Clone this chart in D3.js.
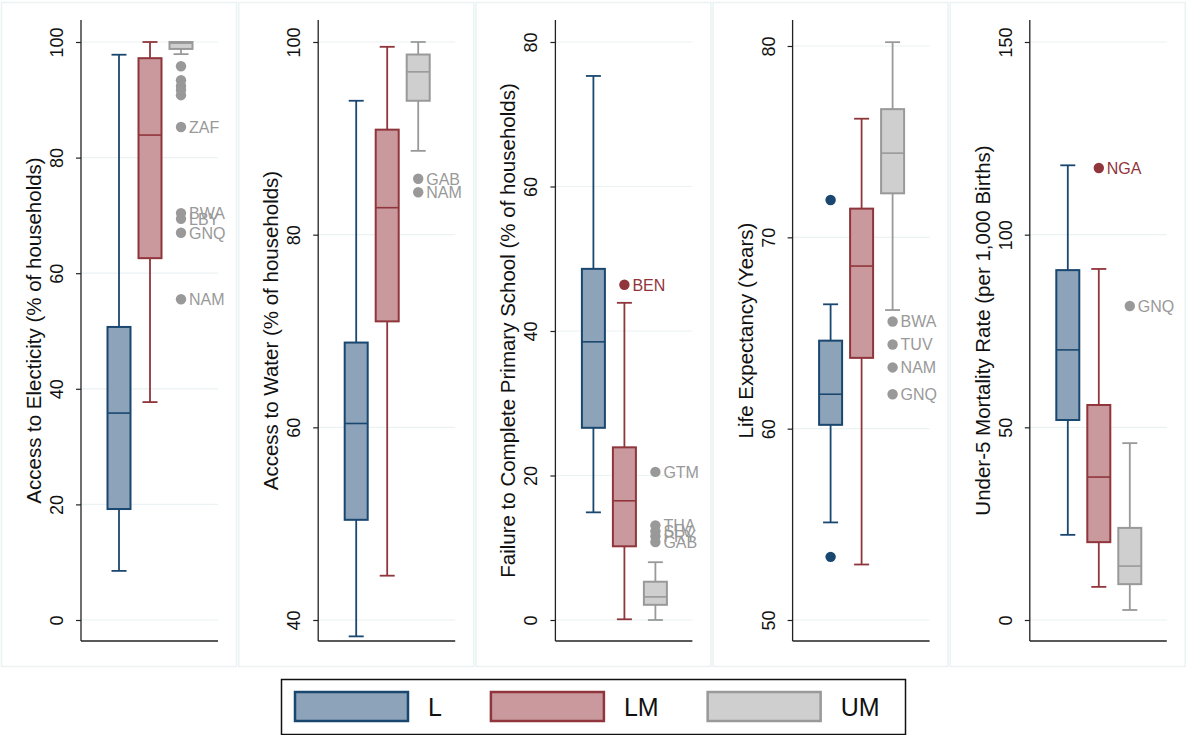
<!DOCTYPE html>
<html>
<head>
<meta charset="utf-8">
<script src="https://cdn.jsdelivr.net/npm/d3@7"></script>
<style>
  html, body { margin: 0; padding: 0; background: #fff; }
  svg { display: block; font-family: "Liberation Sans", Arial, sans-serif; }
</style>
</head>
<body>
<svg id="chart" width="1186" height="735"></svg>
<script>
// Income groups shown in each panel
const groups = ["L", "LM", "UM"];

// Panel axis titles
const titles = [
  "Access to Electicity (% of households)",
  "Access to Water (% of households)",
  "Failure to Complete Primary School (% of households)",
  "Life Expectancy (Years)",
  "Under-5 Mortality Rate (per 1,000 Births)"
];

// Tick values per panel
const ticksElectricity = [0, 20, 40, 60, 80, 100];
const ticksWater = [40, 60, 80, 100];
const ticksSchool = [0, 20, 40, 60, 80];
const ticksLife = [50, 60, 70, 80];
const ticksMortality = [0, 50, 100, 150];

// Box statistics per group: [lower whisker, Q1, median, Q3, upper whisker]
const statsElectricity = [
  [8.5, 19.2, 35.8, 50.7, 97.8],
  [37.7, 62.6, 83.9, 97.2, 100],
  [97.9, 98.8, 99.8, 100, 100]
];
const statsWater = [
  [38.3, 50.4, 60.4, 68.8, 93.9],
  [44.6, 71.0, 82.8, 90.9, 99.5],
  [88.7, 93.9, 96.9, 98.7, 100]
];
const statsSchool = [
  [14.9, 26.6, 38.5, 48.6, 75.3],
  [0.1, 10.2, 16.5, 23.9, 43.9],
  [0, 2.1, 3.2, 5.3, 8.0]
];
const statsLife = [
  [55.1, 60.2, 61.8, 64.6, 66.5],
  [52.9, 63.7, 68.5, 71.5, 76.2],
  [66.2, 72.3, 74.4, 76.7, 80.2]
];
const statsMortality = [
  [22.1, 51.9, 70.1, 90.8, 118.0],
  [8.6, 20.2, 37.1, 55.8, 91.1],
  [2.6, 9.3, 14.0, 23.9, 45.9]
];

// Outside values: [group index, value, country label]
const outElectricity = [
  [2, 95.8, ""], [2, 93.4, ""], [2, 92.4, ""], [2, 91.7, ""], [2, 90.8, ""],
  [2, 85.3, "ZAF"], [2, 70.4, "BWA"], [2, 69.4, "LBY"], [2, 67.0, "GNQ"], [2, 55.5, "NAM"]
];
const outWater = [
  [2, 85.8, "GAB"], [2, 84.4, "NAM"]
];
const outSchool = [
  [1, 46.4, "BEN"],
  [2, 20.5, "GTM"], [2, 13.1, "THA"], [2, 12.3, "SLV"], [2, 11.6, "PRY"], [2, 10.8, "GAB"]
];
const outLife = [
  [0, 71.95, ""], [0, 53.3, ""],
  [2, 65.6, "BWA"], [2, 64.4, "TUV"], [2, 63.2, "NAM"], [2, 61.8, "GNQ"]
];
const outMortality = [
  [1, 117.3, "NGA"], [2, 81.5, "GNQ"]
];

const panels = [
  { title: titles[0], ticks: ticksElectricity, stats: statsElectricity, outs: outElectricity },
  { title: titles[1], ticks: ticksWater, stats: statsWater, outs: outWater },
  { title: titles[2], ticks: ticksSchool, stats: statsSchool, outs: outSchool },
  { title: titles[3], ticks: ticksLife, stats: statsLife, outs: outLife },
  { title: titles[4], ticks: ticksMortality, stats: statsMortality, outs: outMortality }
];

const fills = ["#8ca3b9", "#c9999d", "#cfcfcf"];
const strokes = ["#1a476f", "#90353b", "#999999"];
const dotColors = ["#1a476f", "#90353b", "#999999"];

const svg = d3.select("#chart");

// Layout of the panel grid
const panelW = 235, panelGap = 2.2, panelTop = 2, panelH = 664;
const plotTop = 20, plotBottom = 641;
const tickLo = 620;  // pixel row of the lowest tick
const tickHiRows = [42, 42, 42, 46, 42];
const boxW = 23;

panels.forEach((p, i) => {
  const px = 1 + i * (panelW + panelGap);
  const g = svg.append("g").attr("transform", `translate(${px},0)`);

  g.append("rect")
    .attr("x", 0.5).attr("y", panelTop + 0.5)
    .attr("width", panelW).attr("height", panelH)
    .attr("fill", "#fff").attr("stroke", "#eaf2f3").attr("stroke-width", 1.5);

  const axisX = 80;
  const plotRight = 217;

  const tMin = d3.min(p.ticks), tMax = d3.max(p.ticks);
  const y = d3.scaleLinear().domain([tMin, tMax]).range([tickLo, tickHiRows[i]]);
  // extend the domain to cover the full plotting region
  y.domain([y.invert(plotBottom), y.invert(plotTop)]).range([plotBottom, plotTop]);

  const x = d3.scalePoint().domain(groups).range([axisX + 38, axisX + 100]);

  // gridlines
  g.append("g").selectAll("line").data(p.ticks).join("line")
    .attr("x1", axisX).attr("x2", plotRight)
    .attr("y1", d => y(d)).attr("y2", d => y(d))
    .attr("stroke", "#eaf2f3").attr("stroke-width", 1.2);

  // y axis
  const ax = g.append("g").attr("transform", `translate(${axisX},0)`)
    .call(d3.axisLeft(y).tickValues(p.ticks).tickSize(5).tickPadding(0).tickFormat(d3.format("d")));
  ax.select(".domain").attr("stroke", "#222").attr("stroke-width", 1.3)
    .attr("d", `M0,${plotTop}V${plotBottom}`);
  ax.selectAll(".tick line").attr("stroke", "#222").attr("stroke-width", 1.2);
  ax.selectAll(".tick text")
    .attr("x", 0).attr("y", -18).attr("dy", 0)
    .attr("transform", "rotate(-90)")
    .attr("text-anchor", "middle")
    .style("font-size", "18px").style("fill", "#111");

  // x axis baseline
  g.append("line")
    .attr("x1", axisX).attr("x2", plotRight)
    .attr("y1", plotBottom).attr("y2", plotBottom)
    .attr("stroke", "#222").attr("stroke-width", 1.3);

  // axis title
  g.append("text")
    .attr("transform", `translate(${axisX - 40},${(plotTop + plotBottom) / 2}) rotate(-90)`)
    .attr("text-anchor", "middle")
    .style("font-size", "20.5px").style("fill", "#111")
    .text(p.title);

  // boxes
  p.stats.forEach((s, gi) => {
    const cx = x(groups[gi]);
    const bw = boxW;
    const [lo, q1, med, q3, hi] = s;
    const bg = g.append("g");
    const cap = 15;
    // whiskers
    bg.append("line").attr("x1", cx).attr("x2", cx).attr("y1", y(q3)).attr("y2", y(hi))
      .attr("stroke", strokes[gi]).attr("stroke-width", 1.8);
    bg.append("line").attr("x1", cx).attr("x2", cx).attr("y1", y(q1)).attr("y2", y(lo))
      .attr("stroke", strokes[gi]).attr("stroke-width", 1.8);
    bg.append("line").attr("x1", cx - cap / 2).attr("x2", cx + cap / 2).attr("y1", y(hi)).attr("y2", y(hi))
      .attr("stroke", strokes[gi]).attr("stroke-width", 1.8);
    bg.append("line").attr("x1", cx - cap / 2).attr("x2", cx + cap / 2).attr("y1", y(lo)).attr("y2", y(lo))
      .attr("stroke", strokes[gi]).attr("stroke-width", 1.8);
    // box
    bg.append("rect")
      .attr("x", cx - bw / 2).attr("width", bw)
      .attr("y", y(q3)).attr("height", y(q1) - y(q3))
      .attr("fill", fills[gi]).attr("stroke", strokes[gi]).attr("stroke-width", 2);
    // median
    bg.append("line").attr("x1", cx - bw / 2).attr("x2", cx + bw / 2).attr("y1", y(med)).attr("y2", y(med))
      .attr("stroke", strokes[gi]).attr("stroke-width", 1.6);
  });

  // outside values
  p.outs.forEach(([gi, v, lab]) => {
    const cx = x(groups[gi]);
    g.append("circle").attr("cx", cx).attr("cy", y(v)).attr("r", 5.2)
      .attr("fill", dotColors[gi]);
    if (lab) {
      g.append("text").attr("x", cx + 8).attr("y", y(v)).attr("dy", "0.36em")
        .style("font-size", "16px").style("fill", dotColors[gi])
        .text(lab);
    }
  });
});

// legend
const leg = svg.append("g");
leg.append("rect").attr("x", 281.5).attr("y", 679.5).attr("width", 624).attr("height", 55)
  .attr("fill", "#fff").attr("stroke", "#111").attr("stroke-width", 1.5);
let lx = 295;
groups.forEach((gname, gi) => {
  leg.append("rect").attr("x", lx).attr("y", 692).attr("width", 113).attr("height", 29)
    .attr("fill", fills[gi]).attr("stroke", strokes[gi]).attr("stroke-width", 2.5);
  const t = leg.append("text").attr("x", lx + 133).attr("y", 707).attr("dy", "0.36em")
    .style("font-size", "25px").style("fill", "#111").text(gname);
  lx += 133 + t.node().getComputedTextLength() + 49;
});
</script>
</body>
</html>
